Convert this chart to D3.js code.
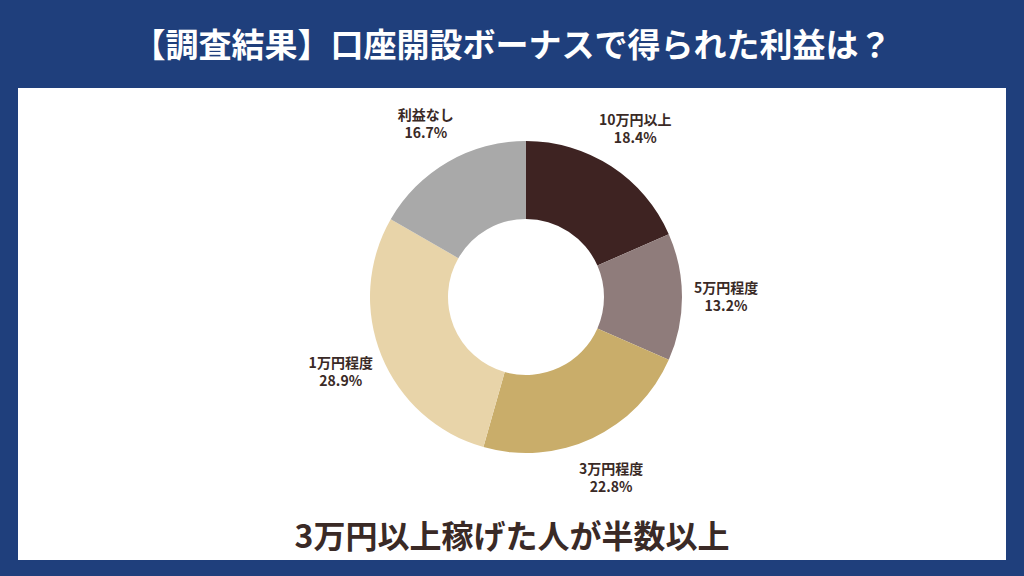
<!DOCTYPE html>
<html><head><meta charset="utf-8">
<script src="https://cdn.jsdelivr.net/npm/d3@7"></script>
<style>body{margin:0;background:#1f3f7c;}svg{display:block}</style>
</head><body>
<svg id="c" width="1024" height="576"></svg>
<script>
const categories = ["10万円以上","5万円程度","3万円程度","1万円程度","利益なし"];
const values = [18.4,13.2,22.8,28.9,16.7];
const colors = ["#3e2322","#8f7c7b","#c9ad6a","#e8d4a9","#a9a9a9"];
const title = "【調査結果】口座開設ボーナスで得られた利益は？";
const subtitle = "3万円以上稼げた人が半数以上";

const svg = d3.select("#c");
const font = "'Noto Sans CJK JP', sans-serif";
svg.append("rect").attr("width",1024).attr("height",576).attr("fill","#1f3f7c");
svg.append("rect").attr("x",18).attr("y",88).attr("width",988).attr("height",472).attr("fill","#fff");
svg.append("text").attr("x",512).attr("y",57).attr("text-anchor","middle").attr("fill","#fff")
  .attr("font-family",font).attr("font-weight",700).attr("font-size",33).text(title);
svg.append("text").attr("x",512).attr("y",548).attr("text-anchor","middle").attr("fill","#3a2a26")
  .attr("font-family",font).attr("font-weight",700).attr("font-size",32).text(subtitle);

const cx=526, cy=297;
const pie = d3.pie().sort(null).value(d=>d)(values);
const arc = d3.arc().innerRadius(78).outerRadius(156);
const g = svg.append("g").attr("transform",`translate(${cx},${cy})`);
g.selectAll("path").data(pie).join("path").attr("d",arc).attr("fill",(d,i)=>colors[i]);
const lab = d3.arc().innerRadius(200).outerRadius(200);
const t = g.selectAll("text").data(pie).join("text")
  .attr("transform",d=>{const c=lab.centroid(d);return `translate(${c[0]},${c[1]})`;})
  .attr("text-anchor","middle").attr("font-family",font).attr("font-weight",700)
  .attr("font-size",14).attr("fill","#3a2a26");
t.append("tspan").attr("x",0).attr("dy","-0.3em").text((d,i)=>categories[i]);
t.append("tspan").attr("x",0).attr("dy","1.3em").text((d,i)=>values[i].toFixed(1)+"%");
</script>
</body></html>
